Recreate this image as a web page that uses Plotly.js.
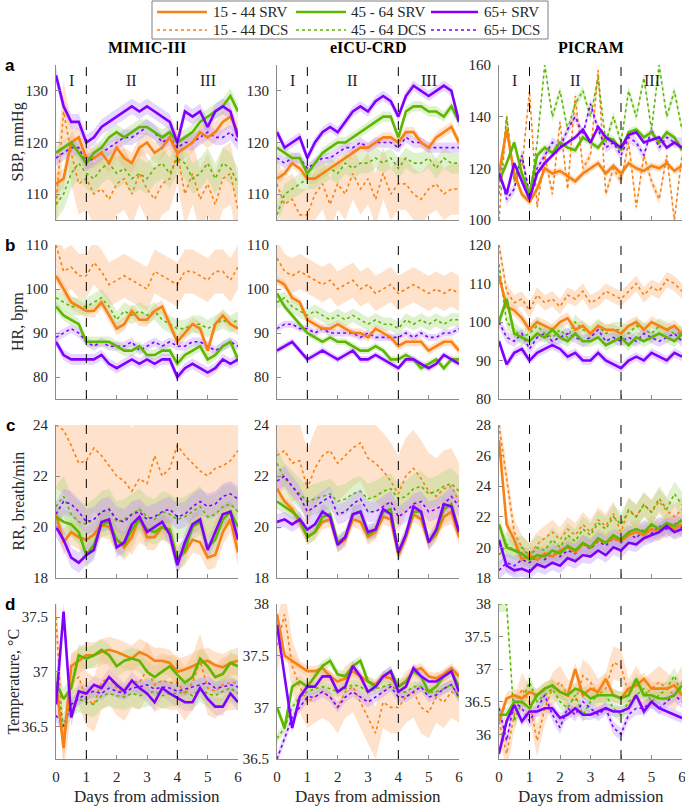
<!DOCTYPE html>
<html>
<head>
<meta charset="utf-8">
<script src="https://cdn.plot.ly/plotly-3.0.1.min.js"></script>
<style>
  html, body { margin: 0; padding: 0; background: #fff; }
  #chart { width: 685px; height: 807px; }
</style>
</head>
<body>
<div id="chart"></div>
<script>
// Vital signs by age group, survivors (SRV) vs deceased (DCS), first 6 days

const days = [0, 0.25, 0.5, 0.75, 1, 1.25, 1.5, 1.75, 2, 2.25, 2.5, 2.75, 3, 3.25, 3.5, 3.75, 4, 4.25, 4.5, 4.75, 5, 5.25, 5.5, 5.75, 6];
const groups = ['15 - 44', '45 - 64', '65+'];
const datasets = ['MIMIC-III', 'eICU-CRD', 'PICRAM'];
const vitals = ['SBP, mmHg', 'HR, bpm', 'RR, breath/min', 'Temperature, °C'];
const phases = ['I', 'II', 'III'];
const phasePos = [0.5, 2.5, 5];
const phaseBounds = [1, 4];

// each block: [15-44, 45-64, 65+]
// ---- SBP ----
const mimicSbpSrv = [
  [112,113,120,121,117,117,118,116,119,117,116,119,120,118,119,121,118,119,120,122,121,122,124,125,122],
  [118,119,120,118,116,118,119,121,122,121,122,123,123,122,121,122,120,121,122,124,125,126,127,129,126],
  [133,127,124,124,120,121,123,124,125,126,127,126,127,126,125,124,120,126,125,126,123,126,127,126,121]
];
const mimicSbpDcs = [
  [108,126,118,112,113,110,111,109,112,113,110,114,111,109,112,113,118,110,114,109,112,108,113,114,107],
  [108,110,114,116,114,113,115,116,114,115,113,114,113,115,116,114,117,116,113,114,116,113,116,115,112],
  [117,118,119,119,116,117,118,119,120,121,121,122,123,122,120,121,119,120,120,121,122,121,121,122,120]
];
const eicuSbpSrv = [
  [113,114,116,115,113,113,114,115,116,117,118,119,119,120,121,121,120,122,122,120,119,121,122,123,120],
  [119,118,117,117,114,116,118,119,120,120,121,122,123,124,125,125,121,126,127,127,126,126,125,127,124],
  [122,119,120,121,117,120,122,123,122,124,126,127,126,128,129,128,125,129,131,130,129,130,131,130,124]
];
const eicuSbpDcs = [
  [112,108,109,106,106,110,112,108,112,110,114,111,113,109,114,110,112,112,110,109,111,112,110,111,111],
  [106,110,111,112,113,113,114,115,114,116,115,116,116,117,116,117,115,117,116,116,117,115,117,116,116],
  [117,116,117,117,115,116,117,117,118,119,119,120,119,120,120,120,119,121,120,120,119,119,119,119,119]
];
const picramSbpSrv = [
  [118,135,118,110,107,112,120,118,119,117,115,118,120,122,118,121,118,122,120,119,121,120,122,119,121],
  [115,122,130,118,110,125,128,126,130,128,127,132,130,128,132,131,127,134,135,132,134,130,134,132,127],
  [118,110,122,115,108,118,122,125,128,130,132,135,130,136,132,130,128,133,134,130,131,132,128,130,128]
];
const picramSbpDcs = [
  [100,140,115,120,150,105,125,110,138,112,148,120,125,158,110,120,115,130,105,125,115,108,125,100,125],
  [110,140,115,125,108,130,160,140,150,135,145,150,140,155,130,140,130,150,140,155,135,160,140,150,135],
  [120,108,112,125,110,120,125,130,128,135,140,133,145,135,128,130,125,132,130,125,135,128,132,130,130]
];

// ---- HR ----
const mimicHrSrv = [
  [103,100,97,96,95,95,97,94,91,92,95,93,93,95,96,92,88,90,92,91,86,92,94,92,91],
  [96,94,93,92,88,88,88,88,87,86,86,87,85,85,86,86,83,85,86,87,84,85,87,88,84],
  [88,85,84,84,84,84,85,83,82,83,84,83,84,83,84,84,80,82,83,82,81,82,84,83,84]
];
const mimicHrDcs = [
  [110,104,105,103,103,106,104,101,102,103,102,101,100,104,103,102,101,104,104,103,102,104,104,102,105],
  [98,97,96,96,96,97,98,96,93,95,94,95,94,95,93,92,91,91,92,92,91,92,93,92,93],
  [89,90,91,90,88,87,88,87,87,87,88,86,87,88,87,88,87,87,88,88,87,86,87,88,87]
];
const eicuHrSrv = [
  [102,101,98,97,93,92,91,91,92,91,90,90,89,91,90,89,87,88,88,88,86,87,88,88,86],
  [99,96,94,92,90,89,88,89,88,88,87,86,86,87,86,84,84,85,84,82,83,84,82,84,84],
  [86,87,88,86,84,85,86,85,84,85,86,84,84,85,84,83,82,84,84,83,82,83,85,84,83]
];
const eicuHrDcs = [
  [107,104,103,104,103,102,101,102,100,101,102,100,101,99,100,101,99,100,101,100,99,100,99,100,99],
  [97,98,96,95,94,95,94,93,94,93,94,93,92,93,92,92,91,93,92,93,92,93,92,93,93],
  [91,92,92,91,91,90,91,90,90,90,90,89,90,89,89,89,89,90,89,90,89,89,90,90,91]
];
const picramHrSrv = [
  [112,104,103,101,98,100,99,98,100,101,98,99,97,99,98,98,97,99,100,98,100,99,98,99,97],
  [100,106,97,96,95,97,96,98,96,95,97,95,95,96,94,95,96,94,96,95,96,97,96,95,97],
  [95,89,92,93,90,92,93,94,93,91,92,90,90,92,90,89,88,90,91,90,92,91,90,92,91]
];
const picramHrDcs = [
  [120,108,105,106,103,107,105,106,104,107,106,108,105,106,108,107,106,108,110,107,109,108,111,110,108],
  [115,100,98,96,97,99,97,96,98,96,100,98,97,99,97,98,98,97,99,98,97,99,98,97,97],
  [100,96,95,97,93,96,97,95,96,97,96,95,96,98,95,96,95,96,95,97,96,95,96,97,95]
];

// ---- RR ----
const mimicRrSrv = [
  [20.5,19.4,19.8,19.6,19.5,19.7,20.1,20.0,19.5,19.2,19.6,20.4,19.6,19.6,20.0,19.8,18.8,19.0,19.5,19.4,18.8,18.9,19.8,20.3,19.0],
  [20.4,20.2,20.1,19.8,18.9,19.3,20.1,20.2,19.5,19.3,19.9,20.3,19.9,19.8,20.0,19.9,18.7,19.1,20.0,20.2,19.2,19.5,20.3,20.6,20.0],
  [20.0,19.5,18.8,18.6,18.9,19.1,20.2,20.3,19.2,19.4,20.1,20.4,19.8,20.0,20.2,19.7,18.5,19.4,20.1,20.3,19.1,19.8,20.5,20.6,19.5]
];
const mimicRrDcs = [
  [24.0,23.8,23.2,22.5,22.6,23.1,22.8,22.4,22.0,21.8,21.4,21.9,21.7,22.8,22.0,22.3,23.2,22.8,22.5,22.2,22.0,22.3,22.4,22.6,23.0],
  [20.8,21.2,20.5,20.2,20.1,20.3,20.6,20.7,20.2,20.3,20.5,20.7,20.4,20.3,20.6,20.5,20.3,20.4,20.6,20.8,20.4,20.5,20.8,20.9,20.6],
  [20.5,21.0,20.9,20.6,20.2,20.3,20.6,20.7,20.3,20.2,20.5,20.6,20.3,20.4,20.6,20.7,20.4,20.5,20.8,21.0,20.8,20.9,21.2,21.3,21.1]
];
const eicuRrSrv = [
  [21.5,21.0,20.7,20.2,19.6,19.8,20.2,20.3,19.3,19.5,20.3,20.2,19.6,19.8,20.4,20.3,18.9,19.6,20.5,20.3,19.4,19.7,20.4,20.6,19.6],
  [21.0,20.8,20.6,20.3,19.6,19.8,20.4,20.5,19.4,19.6,20.5,20.6,19.7,19.9,20.6,20.7,19.0,19.7,20.6,20.6,19.4,19.8,20.7,20.9,19.8],
  [20.2,20.3,20.1,20.3,19.9,20.1,20.6,20.4,19.3,19.6,20.5,20.6,19.8,19.9,20.7,20.5,19.0,19.7,20.8,20.6,19.4,19.9,20.9,20.8,19.8]
];
const eicuRrDcs = [
  [22.8,23.0,22.5,22.6,21.5,22.3,22.8,23.0,22.5,22.8,23.1,23.3,22.7,22.5,22.2,21.8,21.3,22.0,22.3,21.9,21.4,21.2,21.5,21.6,21.0],
  [22.5,21.9,21.6,21.3,21.0,21.1,21.2,21.3,21.0,21.1,21.3,21.4,21.1,21.2,21.4,21.5,21.1,21.2,21.5,21.6,21.3,21.4,21.6,21.7,21.4],
  [21.8,22.0,21.6,21.2,20.6,20.8,21.0,21.2,20.5,20.6,20.9,21.1,20.6,20.6,20.8,21.0,20.4,20.6,20.9,21.0,20.6,20.7,20.9,21.2,20.8]
];
const picramRrSrv = [
  [27.0,21.5,20.5,19.2,19.5,19.2,19.6,19.4,19.8,20.0,19.7,20.2,20.0,20.5,20.3,20.6,20.4,20.8,21.0,20.8,21.2,21.0,21.4,21.2,21.5],
  [21.5,20.0,19.8,19.6,19.2,19.5,19.4,19.8,19.6,20.1,19.8,20.3,20.0,20.6,20.3,20.8,20.5,21.0,21.2,21.0,21.5,21.2,21.6,21.4,21.8],
  [20.5,18.8,18.5,18.6,18.4,18.9,18.7,19.0,18.8,19.3,19.1,19.5,19.4,19.8,19.5,20.0,19.8,20.3,20.2,20.6,20.8,21.0,21.4,21.0,21.2]
];
const picramRrDcs = [
  [28.0,24.5,21.0,20.0,19.5,20.2,20.6,21.0,20.5,21.2,20.8,21.5,21.0,21.8,21.4,22.2,21.0,22.5,22.0,22.8,22.3,23.0,22.4,22.0,22.5],
  [19.5,20.2,19.8,20.0,19.4,20.0,19.8,20.5,20.0,20.8,20.4,21.2,20.8,21.6,21.2,22.0,21.5,22.4,22.0,22.8,22.3,23.2,22.5,23.5,22.8],
  [18.5,19.0,18.8,19.2,19.0,19.4,19.2,19.6,19.4,19.8,19.6,20.2,19.9,20.4,20.1,20.6,20.3,20.9,20.6,21.2,20.9,21.4,21.2,21.6,21.3]
];

// ---- Temperature ----
const mimicTempSrv = [
  [36.9,36.3,37.05,37.1,37.15,37.15,37.18,37.2,37.18,37.15,37.12,37.18,37.15,37.1,37.1,37.08,37.0,37.02,37.05,37.08,37.1,37.06,37.04,37.08,37.1],
  [36.9,36.75,36.85,37.15,37.12,37.15,37.2,37.15,37.05,37.1,37.12,37.1,37.0,36.95,37.0,37.05,36.97,36.9,36.95,37.12,37.05,36.95,36.98,37.08,37.05],
  [36.7,37.55,36.58,36.82,36.8,36.88,36.85,36.95,36.88,36.82,36.92,36.85,36.8,36.72,36.85,36.8,36.76,36.72,36.72,36.85,36.75,36.68,36.68,36.8,36.72]
];
const mimicTempDcs = [
  [37.5,36.3,36.9,36.95,36.75,36.7,36.9,36.95,36.85,36.8,36.92,36.9,37.02,36.88,36.92,36.9,36.9,36.8,36.9,37.1,36.85,36.82,36.88,36.9,36.9],
  [36.9,36.5,36.7,36.75,36.72,36.7,36.78,36.8,36.78,36.77,36.8,36.78,36.8,36.82,36.78,36.8,36.8,36.82,36.78,36.84,36.8,36.78,36.82,36.85,36.8],
  [36.6,36.5,36.7,36.75,36.8,36.82,36.8,36.85,36.82,36.8,36.85,36.86,36.88,36.84,36.86,36.85,36.82,36.84,36.86,36.88,36.9,36.85,36.86,36.88,36.86]
];
const eicuTempSrv = [
  [37.9,37.5,37.45,37.4,37.35,37.35,37.38,37.3,37.25,37.28,37.35,37.3,37.25,37.22,37.3,37.28,37.2,37.25,37.35,37.38,37.3,37.28,37.32,37.38,37.3],
  [37.0,36.8,37.2,37.25,37.2,37.3,37.4,37.45,37.32,37.3,37.4,37.45,37.25,37.2,37.3,37.35,37.2,37.25,37.35,37.3,37.15,37.2,37.3,37.35,37.2],
  [37.8,37.3,36.8,37.1,37.2,37.2,37.3,37.3,37.15,37.2,37.4,37.3,37.15,37.2,37.3,37.35,37.15,37.2,37.38,37.3,37.25,37.25,37.3,37.35,37.15]
];
const eicuTempDcs = [
  [37.6,37.9,37.4,37.2,37.05,37.1,37.15,37.1,37.0,37.15,37.2,37.05,36.9,36.75,37.05,37.0,37.0,37.1,37.15,37.0,36.95,37.1,37.05,37.15,37.1],
  [36.7,36.8,37.0,37.1,37.15,37.18,37.2,37.18,37.15,37.18,37.22,37.2,37.15,37.18,37.2,37.22,37.15,37.15,37.2,37.2,37.15,37.15,37.18,37.22,37.1],
  [36.5,36.7,36.9,37.0,37.1,37.1,37.15,37.1,37.0,37.1,37.15,37.1,37.05,37.1,37.15,37.2,37.1,37.1,37.15,37.2,37.1,37.12,37.18,37.22,37.1]
];
const picramTempSrv = [
  [36.2,36.55,36.6,36.55,36.65,36.6,36.7,36.75,36.65,36.6,37.0,36.6,36.7,36.65,36.85,36.6,36.55,36.7,36.75,36.85,36.7,36.7,36.7,36.75,36.6],
  [36.3,36.3,36.5,36.5,36.4,36.6,36.7,36.75,36.65,36.6,36.7,36.65,36.55,36.6,36.6,36.6,36.55,36.6,36.85,36.6,36.6,36.55,36.55,36.6,36.75],
  [35.7,36.2,36.45,36.2,36.35,36.35,36.4,36.4,36.25,36.3,36.4,36.3,36.3,36.35,36.4,36.35,36.35,36.4,36.6,36.35,36.5,36.4,36.35,36.3,36.25]
];
const picramTempDcs = [
  [36.2,35.7,36.3,36.7,36.5,35.9,36.4,36.7,36.8,36.6,36.5,36.9,36.8,36.6,36.7,37.1,37.05,36.6,36.8,36.6,36.7,36.8,36.7,36.6,36.8],
  [38.0,38.0,36.2,36.5,36.8,36.5,36.6,36.7,36.5,36.4,36.6,36.3,36.5,36.6,36.6,36.4,36.3,36.5,36.6,36.7,36.5,36.6,36.7,36.9,36.6],
  [36.4,35.9,36.5,36.4,36.2,36.4,36.6,36.3,36.1,36.4,36.3,36.5,36.4,36.3,36.4,36.1,36.0,36.3,36.4,36.4,36.5,36.4,36.5,36.6,36.5]
];

// half-width of shaded band: [SRV 15-44, 45-64, 65+, DCS 15-44, 45-64, 65+]
const mimicSbpBand = [2, 1.5, 1.5, 6, 3, 1.5];
const eicuSbpBand = [1, 1, 1, 5, 2, 1];
const picramSbpBand = [1.5, 1.5, 1, 2, 2, 2];
const mimicHrBand = [1.5, 1.2, 1.2, 5, 2, 1];
const eicuHrBand = [1, 0.8, 0.8, 4, 1.5, 0.8];
const picramHrBand = [1.5, 1.5, 1.2, 2, 2, 1.5];
const mimicRrBand = [0.5, 0.5, 0.4, 2.5, 0.8, 0.5];
const eicuRrBand = [0.3, 0.3, 0.3, 1.5, 0.6, 0.4];
const picramRrBand = [0.6, 0.6, 0.5, 0.8, 0.8, 0.6];
const mimicTempBand = [0.12, 0.1, 0.08, 0.25, 0.12, 0.06];
const eicuTempBand = [0.05, 0.05, 0.05, 0.25, 0.05, 0.05];
const picramTempBand = [0.1, 0.1, 0.08, 0.25, 0.12, 0.1];

// ---- layout helpers ----
const W = 685, H = 807;
const lineColors = ['#F98012', '#5DB700', '#8000FF'];
const bandColors = ['rgba(252,190,140,0.45)', 'rgba(165,215,120,0.35)', 'rgba(185,140,255,0.35)'];
const serif = 'Liberation Serif, Times New Roman, serif';
const colPx = [[56, 238], [277, 459], [499, 682]];
const rowPx = [[65, 220], [245, 399], [425, 578], [604, 759]];
const yTitleX = [18, 18, 18, 13];

const panels = [
  { srv: mimicSbpSrv, dcs: mimicSbpDcs, band: mimicSbpBand, range: [105, 135], ticks: [110, 120, 130] },
  { srv: eicuSbpSrv, dcs: eicuSbpDcs, band: eicuSbpBand, range: [105, 135], ticks: [110, 120, 130] },
  { srv: picramSbpSrv, dcs: picramSbpDcs, band: picramSbpBand, range: [100, 160], ticks: [100, 120, 140, 160] },
  { srv: mimicHrSrv, dcs: mimicHrDcs, band: mimicHrBand, range: [75, 110], ticks: [80, 90, 100, 110] },
  { srv: eicuHrSrv, dcs: eicuHrDcs, band: eicuHrBand, range: [75, 110], ticks: [80, 90, 100, 110] },
  { srv: picramHrSrv, dcs: picramHrDcs, band: picramHrBand, range: [80, 120], ticks: [80, 90, 100, 110, 120] },
  { srv: mimicRrSrv, dcs: mimicRrDcs, band: mimicRrBand, range: [18, 24], ticks: [18, 20, 22, 24] },
  { srv: eicuRrSrv, dcs: eicuRrDcs, band: eicuRrBand, range: [18, 24], ticks: [18, 20, 22, 24] },
  { srv: picramRrSrv, dcs: picramRrDcs, band: picramRrBand, range: [18, 28], ticks: [18, 20, 22, 24, 26, 28] },
  { srv: mimicTempSrv, dcs: mimicTempDcs, band: mimicTempBand, range: [36.2, 37.62], ticks: [36.5, 37, 37.5] },
  { srv: eicuTempSrv, dcs: eicuTempDcs, band: eicuTempBand, range: [36.5, 38], ticks: [36.5, 37, 37.5, 38] },
  { srv: picramTempSrv, dcs: picramTempDcs, band: picramTempBand, range: [35.62, 38], ticks: [36, 36.5, 37, 37.5, 38] }
];

function axisId(i) { return i === 0 ? '' : String(i + 1); }

// annotation at a pixel position of the page
function pxNote(text, x, y, font, extra) {
  return Object.assign({
    text: text, xref: 'paper', yref: 'paper',
    x: x / W, y: 1 - y / H, xanchor: 'center', yanchor: 'middle',
    showarrow: false, font: font
  }, extra || {});
}

const bandTraces = [];
const dcsTraces = [];
const srvTraces = [];
const layout = {
  width: W, height: H,
  margin: { l: 0, r: 0, t: 0, b: 0 },
  paper_bgcolor: '#FFFFFF',
  plot_bgcolor: 'rgba(0,0,0,0)',
  showlegend: false,
  font: { family: serif, size: 15, color: '#262626' },
  shapes: [],
  annotations: []
};

panels.forEach((p, i) => {
  const row = Math.floor(i / 3), col = i % 3;
  const id = axisId(i);
  const xa = 'x' + id, ya = 'y' + id;
  const colMid = (colPx[col][0] + colPx[col][1]) / 2;

  [p.srv, p.dcs].forEach((set, k) => {
    set.forEach((vals, g) => {
      const hw = p.band[k * 3 + g];
      const upper = vals.map(v => v + hw);
      const lower = vals.map(v => v - hw).reverse();
      bandTraces.push({
        x: days.concat(days.slice().reverse()),
        y: upper.concat(lower),
        xaxis: xa, yaxis: ya,
        type: 'scatter', mode: 'lines',
        fill: 'toself', fillcolor: bandColors[g],
        line: { width: 0 }, hoverinfo: 'skip'
      });
      const trace = {
        x: days, y: vals,
        xaxis: xa, yaxis: ya,
        type: 'scatter', mode: 'lines',
        name: groups[g] + (k === 0 ? ' SRV' : ' DCS'),
        line: k === 0 ? { color: lineColors[g], width: 2.6 } : { color: lineColors[g], width: 1.6, dash: 'dot' }
      };
      (k === 0 ? srvTraces : dcsTraces).push(trace);
    });
  });

  const bottomRow = row === 3;
  layout['xaxis' + id] = {
    domain: [colPx[col][0] / W, colPx[col][1] / W],
    anchor: ya, range: [0, 6],
    tickvals: [0, 1, 2, 3, 4, 5, 6],
    ticks: 'inside', ticklen: 4, tickcolor: '#8c8c8c',
    showline: true, linecolor: '#8c8c8c', linewidth: 1,
    showgrid: false, zeroline: false,
    showticklabels: bottomRow, ticklabelstandoff: 4,
    ticklabeloverflow: 'allow',
    tickfont: { family: serif, size: 15, color: '#262626' },
    fixedrange: true
  };
  layout['yaxis' + id] = {
    domain: [1 - rowPx[row][1] / H, 1 - rowPx[row][0] / H],
    anchor: xa, range: p.range,
    tickvals: p.ticks,
    ticks: 'inside', ticklen: 4, tickcolor: '#8c8c8c',
    showline: true, linecolor: '#8c8c8c', linewidth: 1,
    showgrid: false, zeroline: false, ticklabelstandoff: 4,
    ticklabeloverflow: 'allow',
    tickfont: { family: serif, size: 15, color: '#262626' },
    fixedrange: true
  };

  // phase boundaries
  phaseBounds.forEach(b => {
    layout.shapes.push({
      type: 'line', xref: xa, yref: ya + ' domain',
      x0: b, x1: b, y0: 0, y1: 1,
      line: { color: '#000', width: 1, dash: 'dash' }
    });
  });

  if (row === 0) {
    phases.forEach((ph, j) => {
      layout.annotations.push({
        text: ph, xref: xa, yref: ya + ' domain',
        x: phasePos[j], y: 0.9, xanchor: 'center', yanchor: 'middle', showarrow: false,
        font: { family: serif, size: 16, color: '#262626' }
      });
    });
    layout.annotations.push(pxNote('<b>' + datasets[col] + '</b>', colMid, 47,
      { family: serif, size: 16, color: '#000' }));
  }
  if (col === 0) {
    layout.annotations.push(pxNote('<b>' + 'abcd'[row] + '</b>', 10, rowPx[row][0],
      { family: 'Liberation Sans, Arial, sans-serif', size: 17, color: '#000' }));
    layout.annotations.push(pxNote(vitals[row], yTitleX[row], (rowPx[row][0] + rowPx[row][1]) / 2,
      { family: serif, size: 16, color: '#262626' }, { textangle: -90 }));
  }
  if (bottomRow) {
    layout.annotations.push(pxNote('Days from admission', colMid, 796,
      { family: serif, size: 17, color: '#262626' }));
  }
});

// legend box drawn by hand: 3 columns x 2 rows
const legX = [[157, 207, 211], [296, 346, 349], [431, 478, 482]];
const legY = [12, 30];
layout.shapes.push({
  type: 'rect', xref: 'paper', yref: 'paper',
  x0: 152 / W, x1: 548 / W, y0: 1 - 39 / H, y1: 1 - 1 / H,
  line: { color: '#7f7f7f', width: 1 }, fillcolor: '#fff'
});
groups.forEach((g, j) => {
  ['SRV', 'DCS'].forEach((kind, r) => {
    layout.shapes.push({
      type: 'line', xref: 'paper', yref: 'paper',
      x0: legX[j][0] / W, x1: legX[j][1] / W,
      y0: 1 - legY[r] / H, y1: 1 - legY[r] / H,
      line: r === 0 ? { color: lineColors[j], width: 2.6 } : { color: lineColors[j], width: 1.6, dash: 'dot' }
    });
    layout.annotations.push(pxNote(g + ' ' + kind, legX[j][2], legY[r],
      { family: serif, size: 15, color: '#262626' }, { xanchor: 'left' }));
  });
});

const config = { responsive: false, displayModeBar: false, staticPlot: true };
Plotly.newPlot('chart', bandTraces.concat(dcsTraces, srvTraces), layout, config);
</script>
</body>
</html>
